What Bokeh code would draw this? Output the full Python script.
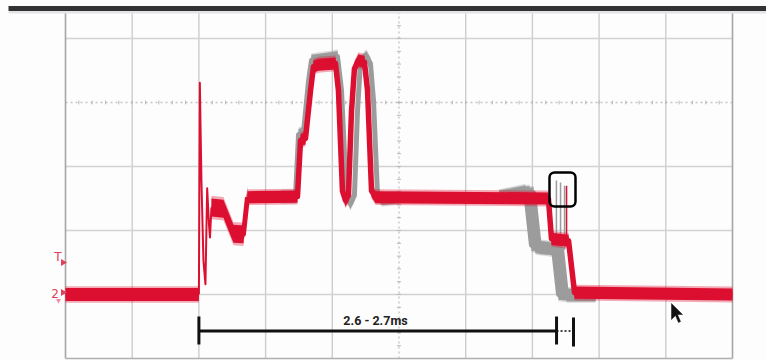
from bokeh.plotting import figure
from bokeh.models import Range1d, BoxAnnotation
from bokeh.core.properties import value
from bokeh.embed import file_html
from bokeh.resources import INLINE

# ---- scope settings: 0.5 ms/div horizontal, values in divisions vertical ----
GRID_T = [-1.0, -0.5, 0.0, 0.5, 1.0, 1.5, 2.0, 2.5, 3.0, 3.5, 4.0]
GRID_V = [1.0, 0.0, -1.0, -2.0, -3.0, -4.0]
CENTER_T = 1.5
CENTER_V = 0.0

# ---- channel 2 (red, latest acquisition) ----
RED_PRE_T = [-1.0, 0.0]
RED_PRE_V = [-3.0, -3.0]

RING_T = [0.0, 0.007, 0.019, 0.034, 0.049, 0.062, 0.076, 0.083, 0.094]
RING_V = [-3.0, 0.31, -1.22, -2.47, -2.84, -1.34, -1.92, -2.11, -1.64]

BUMP_T = [0.094, 0.184, 0.259, 0.334, 0.364]
BUMP_V = [-1.64, -1.66, -2.05, -2.06, -1.48]

RED_T = [0.364, 0.739, 0.762, 0.799, 0.837, 0.859,
         0.897, 1.024, 1.046, 1.076, 1.099, 1.121, 1.144, 1.166, 1.196, 1.241,
         1.264, 1.294, 1.324, 2.62, 2.643, 2.771, 2.816, 4.0]
RED_V = [-1.48, -1.47, -0.59, -0.56, 0.19, 0.56,
         0.59, 0.61, 0.19, -1.38, -1.53, -1.45, -0.13, 0.53, 0.66, 0.63,
         0.19, -1.38, -1.48, -1.5, -2.13, -2.16, -2.97, -3.0]

# ---- persistence traces (grey, earlier acquisitions) ----
GREY_PULSE_T = [0.614, 0.724, 0.747, 0.784, 0.822, 0.844, 0.987, 1.039, 1.069, 1.106,
                1.136, 1.166, 1.189, 1.211, 1.256, 1.286, 1.309, 1.339, 1.376, 1.511]
GREY_PULSE_V = [-1.47, -1.47, -0.5, -0.47, 0.34, 0.66, 0.70, 0.72, 0.19, -1.45,
                -1.58, -1.45, -0.13, 0.63, 0.72, 0.61, 0.03, -1.45, -1.52, -1.48]

GREY_END1_T = [2.25, 2.448, 2.493, 2.658, 2.696, 2.973]
GREY_END1_V = [-1.47, -1.38, -2.23, -2.28, -3.0, -3.0]
GREY_END2_T = [2.25, 2.478, 2.523, 2.688, 2.726, 2.973]
GREY_END2_V = [-1.47, -1.39, -2.27, -2.31, -3.0, -3.0]
GREY_END3_T = [2.25, 2.508, 2.553, 2.718, 2.756, 2.973]
GREY_END3_V = [-1.48, -1.41, -2.27, -2.28, -3.02, -3.02]

GLITCH_GREY_T = [2.68, 2.711, 2.741]
GLITCH_GREY_LO = [-2.3, -2.3, -2.3]
GLITCH_GREY_HI = [-1.22, -1.25, -1.3]
GLITCH_RED_T = [2.756]
GLITCH_RED_LO = [-2.2]
GLITCH_RED_HI = [-1.3]

# ---- annotations ----
MEAS_START = 0.0
MEAS_END1 = 2.681
MEAS_END2 = 2.808
MEAS_LEVEL = -3.57
MEAS_LABEL = "2.6 - 2.7ms"

RED = "#dc0f30"
GREY = "#9c9c9c"

# pixel mapping helpers (canvas 766 x 360)
PX_PER_MS = 133.4
PX_PER_DIV = 64.0
X0_PX = 198.4
Y0_PX = 102.0


def tx(px):
    return (px - X0_PX) / PX_PER_MS


def vy(py):
    return (Y0_PX - py) / PX_PER_DIV


p = figure(width=766, height=360, output_backend="svg", toolbar_location=None,
           x_range=Range1d(tx(0), tx(766)), y_range=Range1d(vy(360), vy(0)),
           min_border=0, min_border_left=0, min_border_right=0,
           min_border_top=0, min_border_bottom=0)
p.xaxis.visible = False
p.yaxis.visible = False
p.xgrid.visible = False
p.ygrid.visible = False
p.outline_line_color = None
p.background_fill_color = "#fdfdfd"
p.border_fill_color = "#fdfdfd"

top_v = vy(11)
bot_v = GRID_V[-1]

# grid
inner_t = [t for t in GRID_T if t not in (GRID_T[0], GRID_T[-1], CENTER_T)]
p.segment(x0=inner_t, x1=inner_t, y0=[bot_v] * len(inner_t), y1=[top_v] * len(inner_t),
          line_color="#cdcdcd", line_width=1.4)
inner_v = [v for v in GRID_V if v not in (GRID_V[-1], CENTER_V)]
p.segment(x0=[GRID_T[0]] * len(inner_v), x1=[GRID_T[-1]] * len(inner_v), y0=inner_v, y1=inner_v,
          line_color="#d2d2d2", line_width=1.4)
# center dotted lines
p.segment(x0=[CENTER_T], x1=[CENTER_T], y0=[bot_v], y1=[top_v], line_color="#c4c4c4",
          line_width=1.3, line_dash="2 3")
p.segment(x0=[GRID_T[0]], x1=[GRID_T[-1]], y0=[CENTER_V], y1=[CENTER_V], line_color="#c4c4c4",
          line_width=1.3, line_dash="2 3")
# center tick marks
ticks_t = [GRID_T[0] + 0.1 * i for i in range(1, 50)]
p.segment(x0=ticks_t, x1=ticks_t, y0=[CENTER_V - 0.03] * len(ticks_t),
          y1=[CENTER_V + 0.03] * len(ticks_t), line_color="#b8b8b8", line_width=1)
ticks_v = [bot_v + 0.2 * i for i in range(1, 28)]
p.segment(x0=[CENTER_T - 0.015] * len(ticks_v), x1=[CENTER_T + 0.015] * len(ticks_v),
          y0=ticks_v, y1=ticks_v, line_color="#b8b8b8", line_width=1)
# frame edges
p.segment(x0=[GRID_T[0], GRID_T[-1]], x1=[GRID_T[0], GRID_T[-1]], y0=[bot_v, bot_v],
          y1=[top_v, top_v], line_color="#a6a6a6", line_width=1.6)
p.segment(x0=[GRID_T[0]], x1=[GRID_T[-1]], y0=[bot_v], y1=[bot_v],
          line_color="#b0b0b0", line_width=1.6)

# dark bar at top
p.quad(left=[tx(8)], right=[tx(770)], top=[vy(5.5)], bottom=[vy(10.5)],
       fill_color="#303234", line_color=None)
p.quad(left=[tx(8)], right=[tx(770)], top=[vy(10.5)], bottom=[vy(13)],
       fill_color="#e4e4e6", line_color=None)


def trace(ts, vs, color, half, edge_w):
    """Noisy scope trace: vertical noise band + thin line for steep edges."""
    p.varea(x=ts, y1=[v - half * 1.3 for v in vs], y2=[v + half * 1.3 for v in vs],
            fill_color=color, fill_alpha=0.35)
    p.varea(x=ts, y1=[v - half for v in vs], y2=[v + half for v in vs],
            fill_color=color, fill_alpha=1.0)
    p.line(ts, vs, line_color=color, line_width=edge_w, line_join="round")


# grey persistence traces
for ts, vs in [(GREY_PULSE_T, GREY_PULSE_V), (GREY_END1_T, GREY_END1_V),
               (GREY_END2_T, GREY_END2_V), (GREY_END3_T, GREY_END3_V)]:
    trace(ts, vs, GREY, 0.085, 5)
p.segment(x0=GLITCH_GREY_T, x1=GLITCH_GREY_T, y0=GLITCH_GREY_LO, y1=GLITCH_GREY_HI,
          line_color=GREY, line_width=1.5)

# red trace
trace(RED_PRE_T, RED_PRE_V, RED, 0.1, 5)
p.line(RING_T, RING_V, line_color=RED, line_width=2, line_join="round")
trace(BUMP_T, BUMP_V, RED, 0.14, 5)
trace(RED_T, RED_V, RED, 0.095, 5.5)
p.segment(x0=GLITCH_RED_T, x1=GLITCH_RED_T, y0=GLITCH_RED_LO, y1=GLITCH_RED_HI,
          line_color=RED, line_width=1.5)

# highlight box
box = BoxAnnotation(left=tx(549), right=tx(575), top=vy(172), bottom=vy(206),
                    fill_alpha=0, line_color="black", line_alpha=1, line_width=2.5,
                    border_radius=5)
p.add_layout(box)

# measurement bar
p.segment(x0=[MEAS_START], x1=[MEAS_END1], y0=[MEAS_LEVEL], y1=[MEAS_LEVEL],
          line_color="#111111", line_width=3)
p.segment(x0=[MEAS_END1], x1=[MEAS_END2], y0=[MEAS_LEVEL], y1=[MEAS_LEVEL],
          line_color="#444444", line_width=2, line_dash="2 2")
p.segment(x0=[MEAS_START, MEAS_END1, MEAS_END2], x1=[MEAS_START, MEAS_END1, MEAS_END2],
          y0=[vy(316), vy(316), vy(317)], y1=[vy(344), vy(344), vy(346)],
          line_color="#111111", line_width=3)
p.text(x=[tx(375)], y=[vy(320)], text=[MEAS_LABEL], text_align="center",
       text_baseline="alphabetic", text_font=value("Roboto"), text_font_style="bold",
       text_font_size="12.5px", text_color="#222222")

# channel markers on the left
p.text(x=[tx(57.5)], y=[vy(256)], text=["T"], text_align="center", text_baseline="alphabetic",
       text_font=value("DejaVu Sans"), text_font_size="12px", text_color="#e0405c")
p.text(x=[tx(54.5)], y=[vy(293)], text=["2"], text_align="center", text_baseline="alphabetic",
       text_font=value("DejaVu Sans"), text_font_size="12px", text_color="#e0405c")
p.scatter(x=[tx(62.5), tx(62.5)], y=[vy(262), vy(292)], marker="triangle", angle=-1.5708,
          size=7, fill_color="#e0405c", line_color=None)
p.scatter(x=[tx(58)], y=[vy(300)], marker="inverted_triangle", size=5,
          fill_color="#f08aa0", line_color=None)

# mouse pointer
cur = [(0, 0), (0, 16), (4, 12), (7, 19), (9, 18), (6, 11), (11, 11)]
p.patch([tx(671 + dx) for dx, dy in cur], [vy(303 + dy) for dx, dy in cur],
        fill_color="#111111", line_color="#111111", line_width=0.5)

open("out.html", "w").write(file_html(p, INLINE))
